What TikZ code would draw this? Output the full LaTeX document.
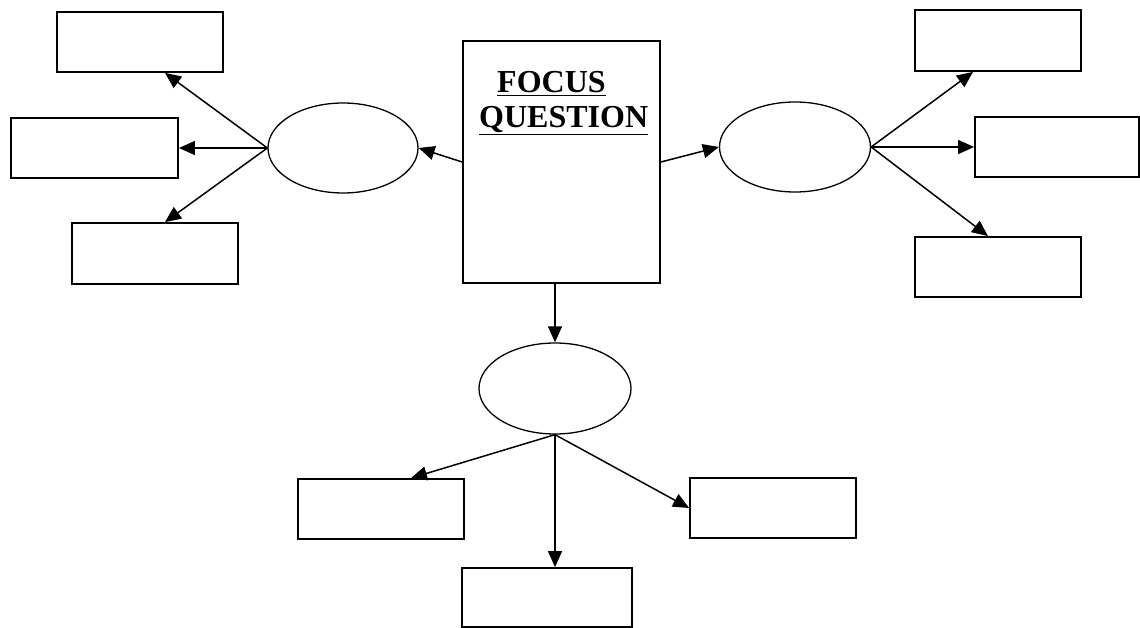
\documentclass[tikz,border=0pt]{standalone}
\usepackage{fontspec}
\setmainfont{Liberation Serif}
\usetikzlibrary{arrows.meta,shapes.geometric}
\tikzset{
  rbox/.style={draw=black, line width=1.8pt, rectangle, inner sep=0pt, minimum width=166pt, minimum height=60pt},
  oval/.style={draw=black, line width=1.3pt, ellipse, inner sep=0pt, minimum width=150pt, minimum height=90pt},
  conn/.style={line width=1.5pt, -{Triangle[length=16pt,width=14pt]}},
  title/.style={font=\fontsize{32}{36}\selectfont\bfseries, inner sep=0pt, anchor=base west}
}
\begin{document}
\begin{tikzpicture}[x=1pt,y=-1pt]
\useasboundingbox (0,0) rectangle (1140,628);
% center box
\node[rbox, minimum width=197pt, minimum height=242pt] (CB) at (561.5,162) {};
\node[title] (t1) at (497,93) {\underline{FOCUS}};
\node[title] (t2) at (479,128) {\underline{QUESTION}};
% ellipses
\node[oval] (LE) at (343,148) {};
\node[oval, minimum width=151pt] (RE) at (795,147) {};
\node[oval, minimum width=152pt, minimum height=91pt] (BE) at (555,388.5) {};
% left boxes
\node[rbox] (TL) at (140,42) {};
\node[rbox, minimum width=167pt] (ML) at (94.5,148) {};
\node[rbox, minimum height=61pt] (BL) at (155,253.5) {};
% right boxes
\node[rbox, minimum height=61pt] (TR) at (998,40.5) {};
\node[rbox, minimum width=164pt] (MR) at (1057,147) {};
\node[rbox] (BR) at (998,267) {};
% bottom boxes
\node[rbox] (BBL) at (381,509) {};
\node[rbox, minimum width=170pt, minimum height=59pt] (BBB) at (547,597.5) {};
\node[rbox] (BBR) at (773,508) {};
% connectors
\draw[conn] (CB.west) -- (LE.east);
\draw[conn] (LE.west) -- ([xshift=25pt]TL.south);
\draw[conn] (LE.west) -- (ML.east);
\draw[conn] (LE.west) -- ([xshift=10pt]BL.north);
\draw[conn] (CB.east) -- (RE.west);
\draw[conn] (RE.east) -- ([xshift=-25pt]TR.south);
\draw[conn] (RE.east) -- (MR.west);
\draw[conn] (RE.east) -- ([xshift=-10pt]BR.north);
\draw[conn] ([xshift=-6.5pt]CB.south) -- (BE.north);
\draw[conn] (BE.south) -- ([xshift=30pt]BBL.north);
\draw[conn] (BE.south) -- (BE.south |- BBB.north);
\draw[conn] (BE.south) -- (BBR.west);
\end{tikzpicture}
\end{document}
